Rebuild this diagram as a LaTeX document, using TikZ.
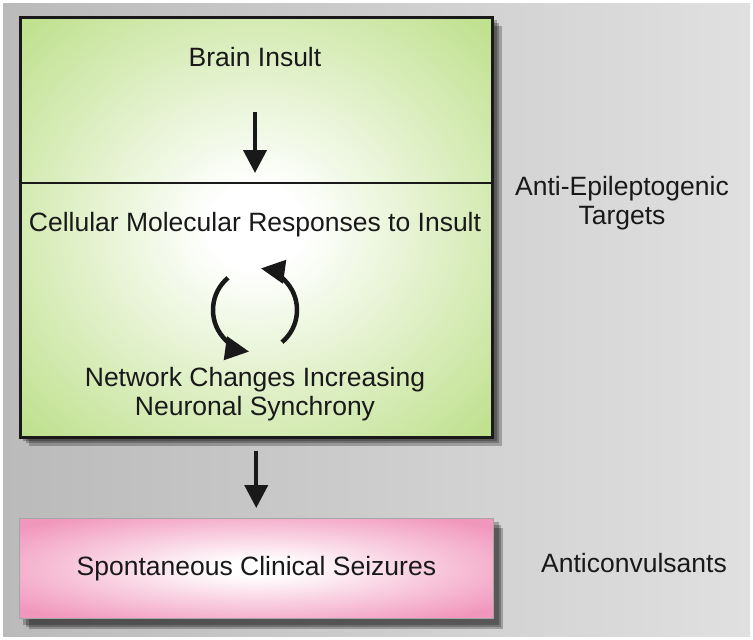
\documentclass[tikz,border=0pt]{standalone}
\usepackage{fontspec}
\setmainfont{Liberation Sans}
\usepackage{xcolor}
\usepackage{tikz}
\usetikzlibrary{arrows.meta,positioning,calc}

\definecolor{bggray}{HTML}{BABABA}
\definecolor{bglight}{HTML}{E0E0E0}
\definecolor{leafgreen}{HTML}{BCDF88}
\definecolor{rosepink}{HTML}{F197BC}

\pgfdeclareradialshading{greenglow}{\pgfpoint{0bp}{0bp}}{color(0bp)=(white); color(5bp)=(white);
    color(22bp)=(leafgreen!55!white); color(36bp)=(leafgreen); color(50bp)=(leafgreen)}
\pgfdeclareradialshading{pinkglow}{\pgfpoint{0bp}{0bp}}{color(0bp)=(white); color(4bp)=(white);
    color(32bp)=(rosepink); color(50bp)=(rosepink)}

\begin{document}
\begin{tikzpicture}[x=1pt, y=-1pt,
    every node/.style={font=\fontsize{26.5pt}{29pt}\selectfont, text=black!90, align=center},
    panel/.style={rectangle, anchor=north west, inner sep=0pt},
    flow/.style={-{Triangle[length=23pt,width=23pt]}, line width=4pt, black!90},
    turn/.style={-{Triangle[length=24pt,width=23pt]}, line width=4.5pt, black!90},
    shadowbox/.style={fill=black, opacity=0.25}]
    \useasboundingbox (0,0) rectangle (753,640);
    \shade[left color=bggray, right color=bglight] (3,3) rectangle (750,636);

    % shadows
    \fill[shadowbox] (29,26) rectangle (502,446);
    \fill[shadowbox] (26,23) rectangle (499,443);
    \fill[shadowbox] (23,20) rectangle (497,441);
    \fill[shadowbox] (29,528) rectangle (503,629);
    \fill[shadowbox] (26,525) rectangle (501,627);
    \fill[shadowbox] (23,522) rectangle (499,625);

    % boxes
    \node (greenbox) [panel, draw=black!90, line width=2.5pt, shading=greenglow,
        minimum width=472pt, minimum height=420pt] at (19,16) {};
    \node (seizures) [panel, draw=black!35, line width=0.8pt, shading=pinkglow,
        minimum width=474pt, minimum height=100pt] at (19,518) {Spontaneous Clinical Seizures};

    \coordinate (split) at (255,183);
    \draw [line width=2.5pt, black!90] (greenbox.west |- split) -- (greenbox.east |- split);

    % texts
    \node (insult) at (255,57) {Brain Insult};
    \node (responses) at (255,225) {Cellular Molecular Responses to Insult};
    \node (network) at (255,394) {Network Changes Increasing\\Neuronal Synchrony};
    \node (targets) at (622,203) {Anti-Epileptogenic\\Targets};
    \node (anticonv) at (634,563) {Anticonvulsants};

    % arrows
    \coordinate (a1) at (255,112);
    \coordinate (a2) at (255,173);
    \draw [flow] (a1) -- (a2);
    \draw [flow, shorten <=12pt, shorten >=10pt] (greenbox.south) -- (greenbox.south |- seizures.north);

    \coordinate (loop) at (255,310);
    \draw [turn] ($(loop)+(-130:42)$) arc[start angle=-130, end angle=-262, radius=42];
    \draw [turn] ($(loop)+(50:42)$) arc[start angle=50, end angle=-82, radius=42];
\end{tikzpicture}
\end{document}
